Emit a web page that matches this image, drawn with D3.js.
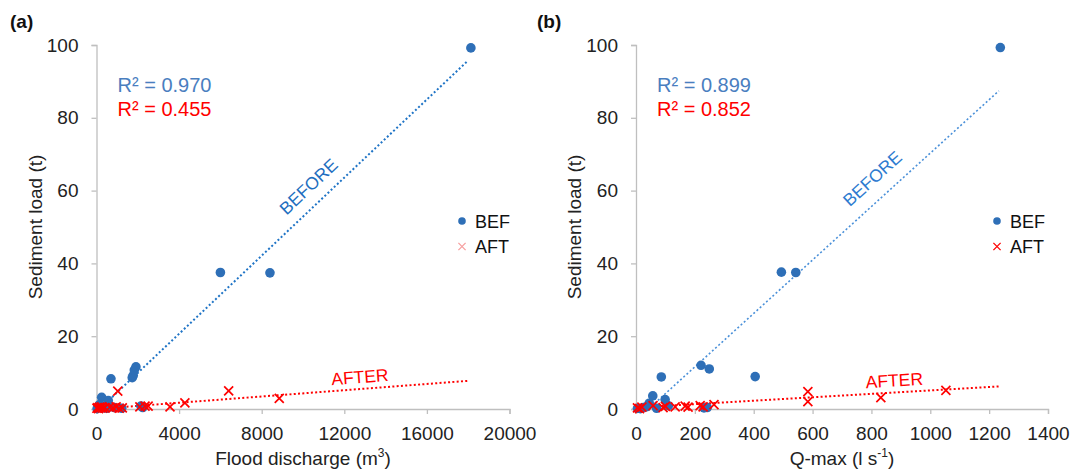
<!DOCTYPE html>
<html>
<head>
<meta charset="utf-8">
<script src="https://cdn.jsdelivr.net/npm/d3@7"></script>
<style>
body { margin: 0; background: #fff; }
svg { font-family: "Liberation Sans", Arial, sans-serif; }
.axis path, .axis line { stroke: #bfbfbf; stroke-width: 1.3; }
.axis text { fill: #222; font-size: 19px; }
</style>
</head>
<body>
<svg id="chart" width="1075" height="470"></svg>
<script>
// panel (a): flood discharge vs sediment load
var befA_x = [18130, 6000, 8400, 1730, 1780, 1830, 1910, 700, 250, 570, 80, 150, 300, 450, 860, 1220, 2150, 2240, 30, 500];
var befA_y = [99.2, 37.5, 37.4, 8.6, 9.2, 10.7, 11.6, 8.3, 3.2, 2.3, 0.5, 1.2, 0.3, 0.8, 0.4, 0.2, 0.8, 0.4, 0.1, 0.2];
var aftA_x = [1030, 6400, 8850, 4280, 3560, 2100, 2350, 2500, 20, 60, 100, 150, 200, 250, 300, 400, 650, 800, 950, 1100, 1250];
var aftA_y = [4.9, 5.0, 2.9, 1.7, 0.6, 0.6, 0.8, 0.8, 0.2, 0.4, 0.1, 0.5, 0.3, 0.6, 0.2, 0.4, 0.5, 0.3, 0.6, 0.2, 0.3];

// panel (b): Q-max vs sediment load
var befB_x = [1238, 494, 543, 221, 249, 405, 86, 57, 99, 45, 231, 242, 110, 5, 15, 25, 35, 70];
var befB_y = [99.3, 37.6, 37.5, 12.0, 11.0, 8.9, 8.8, 3.6, 2.6, 1.6, 0.3, 0.4, 0.9, 0.2, 0.1, 0.4, 0.6, 0.2];
var aftB_x = [584, 584, 832, 1053, 5, 12, 20, 58, 92, 100, 133, 167, 177, 218, 228, 265];
var aftB_y = [4.8, 2.0, 3.1, 5.1, 0.3, 0.1, 0.5, 0.9, 0.4, 0.7, 0.6, 0.8, 0.5, 0.9, 0.6, 1.2];

// trendlines: [slope, intercept, xStart, xEnd]
var trendBefA = [0.005365, -0.8, 150, 18000];
var trendAftA = [0.00043, 0.0, 0, 18000];
var trendBefB = [0.0734, -3.1, 42, 1233];
var trendAftB = [0.00471, 0.39, 0, 1233];

var r2A = ["R² = 0.970", "R² = 0.455"];
var r2B = ["R² = 0.899", "R² = 0.852"];

var xTicksA = [0, 4000, 8000, 12000, 16000, 20000];
var xTicksB = [0, 200, 400, 600, 800, 1000, 1200, 1400];
var yTicks = [0, 20, 40, 60, 80, 100];

var blue = "#2e6fb7";
var red = "#ff0000";

var svg = d3.select("#chart");

function panel(opt) {
    var x = d3.scaleLinear().domain(opt.xdom).range(opt.xr);
    var y = d3.scaleLinear().domain([0, 100]).range([409, 45]);
    var g = svg.append("g");

    g.append("g")
        .attr("class", "axis")
        .attr("transform", "translate(" + opt.xr[0] + ",0)")
        .call(d3.axisLeft(y).tickValues(yTicks).tickSize(5).tickPadding(13));
    g.append("g")
        .attr("class", "axis")
        .attr("transform", "translate(0,409)")
        .call(d3.axisBottom(x).tickValues(opt.xticks).tickSize(5).tickPadding(13).tickFormat(d3.format("d")));

    // trendlines
    [[opt.tb, opt.lineBlue, opt.wBlue], [opt.ta, red, 2]].forEach(function(t) {
        var c = t[0];
        g.append("line")
            .attr("x1", x(c[2])).attr("y1", y(c[0] * c[2] + c[1]))
            .attr("x2", x(c[3])).attr("y2", y(c[0] * c[3] + c[1]))
            .attr("stroke", t[1])
            .attr("stroke-width", t[2])
            .attr("stroke-dasharray", "2,2.3");
    });

    // BEF points
    g.selectAll("circle.bef")
        .data(d3.zip(opt.bx, opt.by))
        .enter().append("circle")
        .attr("class", "bef")
        .attr("cx", d => x(d[0]))
        .attr("cy", d => y(d[1]))
        .attr("r", 4.8)
        .attr("fill", blue);

    // AFT points
    var s = 4.5;
    g.selectAll("path.aft")
        .data(d3.zip(opt.ax, opt.ay))
        .enter().append("path")
        .attr("class", "aft")
        .attr("transform", d => "translate(" + x(d[0]) + "," + y(d[1]) + ")")
        .attr("d", "M" + -s + "," + -s + "L" + s + "," + s + "M" + -s + "," + s + "L" + s + "," + -s)
        .attr("stroke", red)
        .attr("stroke-width", 1.7)
        .attr("fill", "none");

    // line labels
    function lineLabel(txt, c, xv, off, col) {
        var px = x(xv), py = y(c[0] * xv + c[1]);
        var ang = Math.atan2(y(c[0] * (xv + 1) + c[1]) - py, x(xv + 1) - px) * 180 / Math.PI;
        g.append("text")
            .attr("transform", "translate(" + px + "," + py + ") rotate(" + ang + ") translate(0," + off + ")")
            .attr("text-anchor", "middle")
            .attr("font-size", "17.5px")
            .attr("fill", col)
            .text(txt);
    }
    lineLabel("BEFORE", opt.tb, opt.befLabX, opt.befOff, opt.labBlue);
    lineLabel("AFTER", opt.ta, opt.aftLabX, -6, red);

    // R² texts
    g.append("text").attr("x", opt.xr[0] + 21).attr("y", 92)
        .attr("font-size", "20px").attr("fill", "#4a7ebf").text(opt.r2[0]);
    g.append("text").attr("x", opt.xr[0] + 21).attr("y", 116)
        .attr("font-size", "20px").attr("fill", red).text(opt.r2[1]);

    // legend
    var lx = opt.legX;
    g.append("circle").attr("cx", lx).attr("cy", 221).attr("r", 3.8).attr("fill", blue);
    g.append("text").attr("x", lx + 13).attr("y", 228).attr("font-size", "18px").attr("fill", "#111").text("BEF");
    var ls = 3.6;
    g.append("path")
        .attr("transform", "translate(" + lx + ",246.5)")
        .attr("d", "M" + -ls + "," + -ls + "L" + ls + "," + ls + "M" + -ls + "," + ls + "L" + ls + "," + -ls)
        .attr("stroke", opt.legX_col).attr("stroke-width", 1.3).attr("fill", "none");
    g.append("text").attr("x", lx + 13).attr("y", 253).attr("font-size", "18px").attr("fill", "#111").text("AFT");

    // axis titles
    g.append("text")
        .attr("transform", "translate(" + opt.ytX + ",227) rotate(-90)")
        .attr("text-anchor", "middle")
        .attr("font-size", "19px").attr("fill", "#222")
        .text("Sediment load (t)");
    var xt = g.append("text")
        .attr("x", (opt.xr[0] + opt.xr[1]) / 2)
        .attr("y", 465)
        .attr("text-anchor", "middle")
        .attr("font-size", "19px").attr("fill", "#222");
    xt.append("tspan").text(opt.xtitle[0]);
    xt.append("tspan").attr("font-size", "12px").attr("dy", -8).text(opt.xtitle[1]);
    xt.append("tspan").attr("dy", 8).text(")");

    // panel letter
    g.append("text").attr("x", opt.letX).attr("y", 28)
        .attr("font-size", "19px").attr("font-weight", "bold").attr("fill", "#111")
        .text(opt.letter);
}

panel({
    xdom: [0, 20000], xr: [96.5, 509.5], xticks: xTicksA,
    bx: befA_x, by: befA_y, ax: aftA_x, ay: aftA_y,
    tb: trendBefA, ta: trendAftA, lineBlue: "#1f74c6", wBlue: 2, labBlue: "#1f6fbf",
    befLabX: 10870, befOff: -12, aftLabX: 12800,
    r2: r2A, legX: 462, legX_col: "#f7a0a0",
    ytX: 42, xtitle: ["Flood discharge (m", "3"], letter: "(a)", letX: 10
});

panel({
    xdom: [0, 1400], xr: [636, 1048], xticks: xTicksB,
    bx: befB_x, by: befB_y, ax: aftB_x, ay: aftB_y,
    tb: trendBefB, ta: trendAftB, lineBlue: "#4a90d9", wBlue: 1.6, labBlue: "#2e7bd0",
    befLabX: 849, befOff: -14, aftLabX: 880,
    r2: r2B, legX: 997, legX_col: red,
    ytX: 581, xtitle: ["Q-max (l s", "-1"], letter: "(b)", letX: 537
});
</script>
</body>
</html>
